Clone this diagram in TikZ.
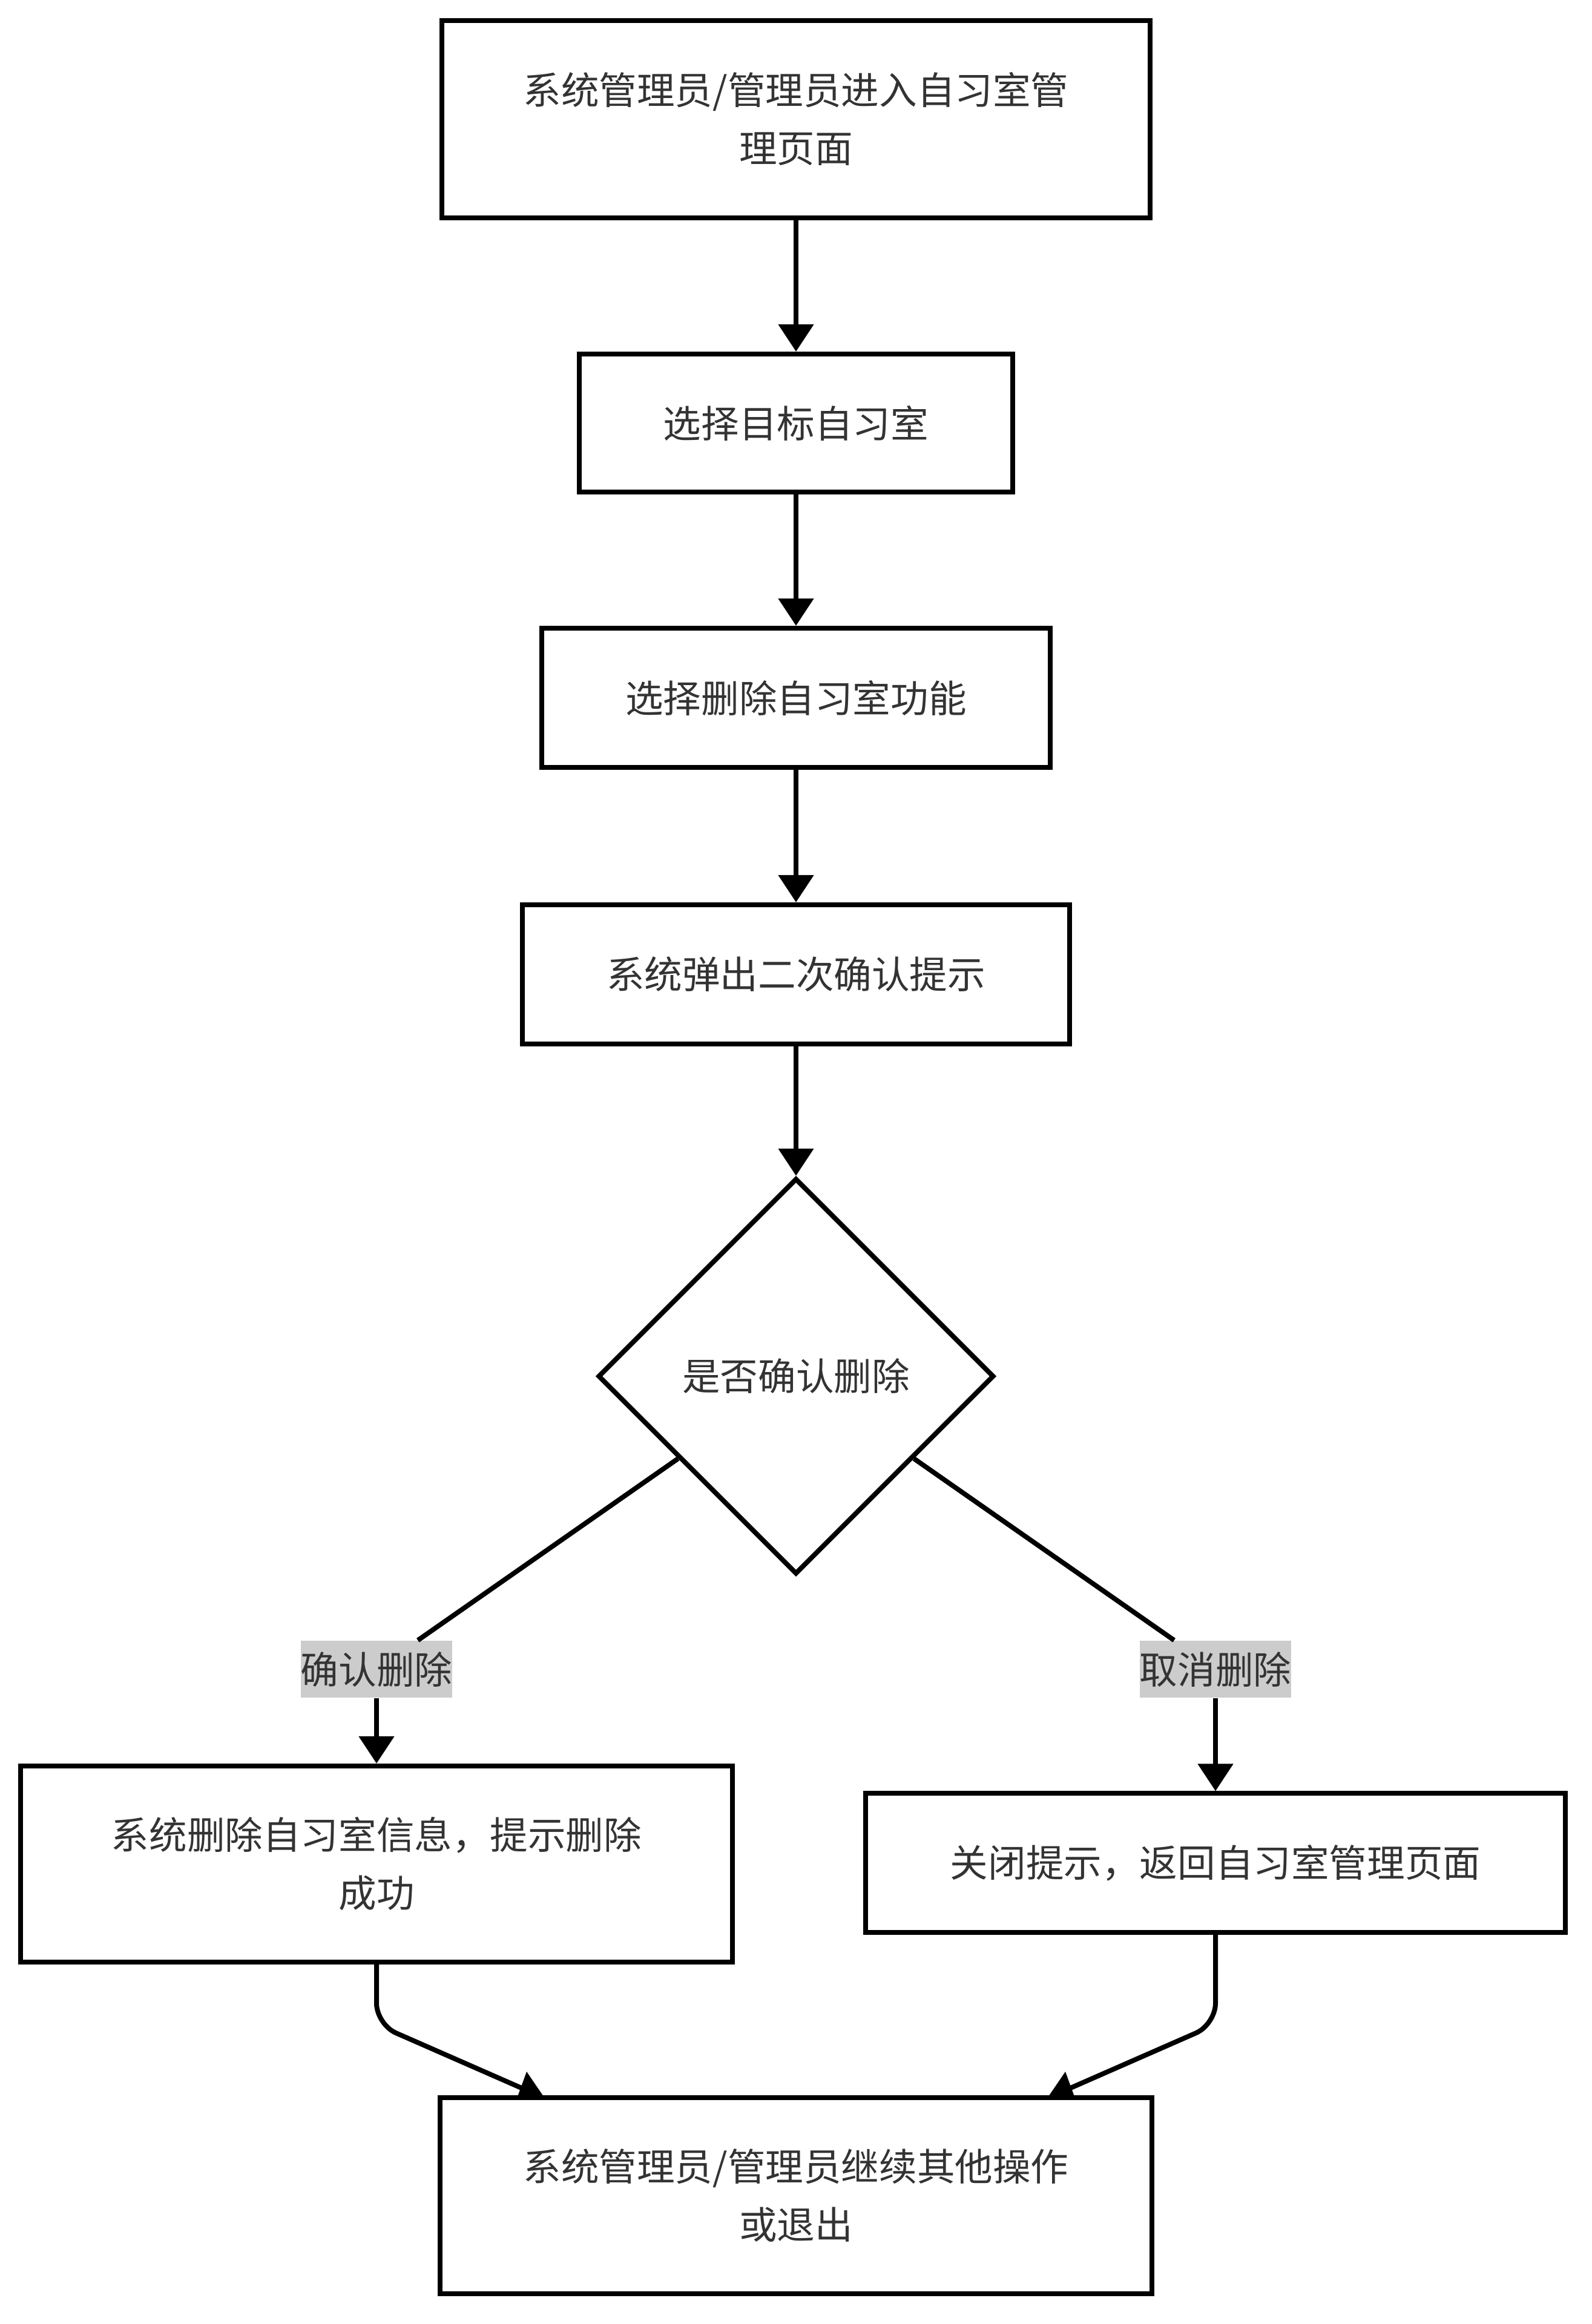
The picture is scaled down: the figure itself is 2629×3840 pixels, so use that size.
\documentclass[tikz,border=0pt]{standalone}
\usepackage{fontspec}
\setmainfont{Noto Sans CJK SC}
\usetikzlibrary{arrows.meta,shapes.geometric}
\definecolor{txtc}{HTML}{333333}
\definecolor{lblc}{HTML}{CCCCCC}
\begin{document}
\begin{tikzpicture}[x=0.01cm,y=-0.01cm,
  txtfont/.style={font=\fontsize{17.8pt}{27.3pt}\selectfont},
  box/.style={draw=black, line width=0.08cm, fill=white, inner sep=0pt, align=center, text=txtc, txtfont},
  dec/.style={box, shape=diamond, aspect=1, minimum width=6.54cm, minimum height=6.54cm},
  lbl/.style={fill=lblc, text=txtc, inner xsep=0pt, inner ysep=0pt, minimum height=0.94cm, txtfont},
  conn/.style={draw=black, line width=0.08cm},
  arr/.style={conn, -{Triangle[length=0.45cm,width=0.57cm]}}
]
\useasboundingbox (0,0) rectangle (2629,3840);

\node[box, minimum width=11.7cm, minimum height=3.25cm] (b1) at (1315,197) {系统管理员/管理员进入自习室管\\理页面};
\node[box, minimum width=7.15cm, minimum height=2.28cm] (b2) at (1315,699) {选择目标自习室};
\node[box, minimum width=8.40cm, minimum height=2.30cm] (b3) at (1315,1153) {选择删除自习室功能};
\node[box, minimum width=9.03cm, minimum height=2.30cm] (b4) at (1315,1610) {系统弹出二次确认提示};
\node[dec] (d) at (1315,2274) {是否确认删除};
\node[box, minimum width=11.76cm, minimum height=3.24cm] (b5) at (622,3080) {系统删除自习室信息，提示删除\\成功};
\node[box, minimum width=11.55cm, minimum height=2.29cm] (b6) at (2008,3078) {关闭提示，返回自习室管理页面};
\node[box, minimum width=11.75cm, minimum height=3.23cm] (b7) at (1315,3628) {系统管理员/管理员继续其他操作\\或退出};

\node[lbl] (l1) at (622,2758) {确认删除};
\node[lbl] (l2) at (2008,2758) {取消删除};

\draw[arr] (b1) -- (b2);
\draw[arr] (b2) -- (b3);
\draw[arr] (b3) -- (b4);
\draw[arr] (b4) -- (d);
\draw[conn] (d) -- (l1);
\draw[arr] (l1) -- (l1 |- b5.north);
\draw[conn] (d) -- (l2);
\draw[arr] (l2) -- (l2 |- b6.north);

\coordinate (k1) at (622,3345);
\coordinate (e1) at (866,3452);
\coordinate (k2) at (2008,3345);
\coordinate (e2) at (1764,3452);
\draw[conn, rounded corners=0.35cm] (b5.south) -- (k1) -- (e1);
\draw[conn, rounded corners=0.35cm] (b6.south) -- (k2) -- (e2);
\fill[black] (870,3423) -- (854,3467) -- (900,3467) -- cycle;
\fill[black] (1760,3423) -- (1730,3467) -- (1776,3467) -- cycle;
\end{tikzpicture}
\end{document}
